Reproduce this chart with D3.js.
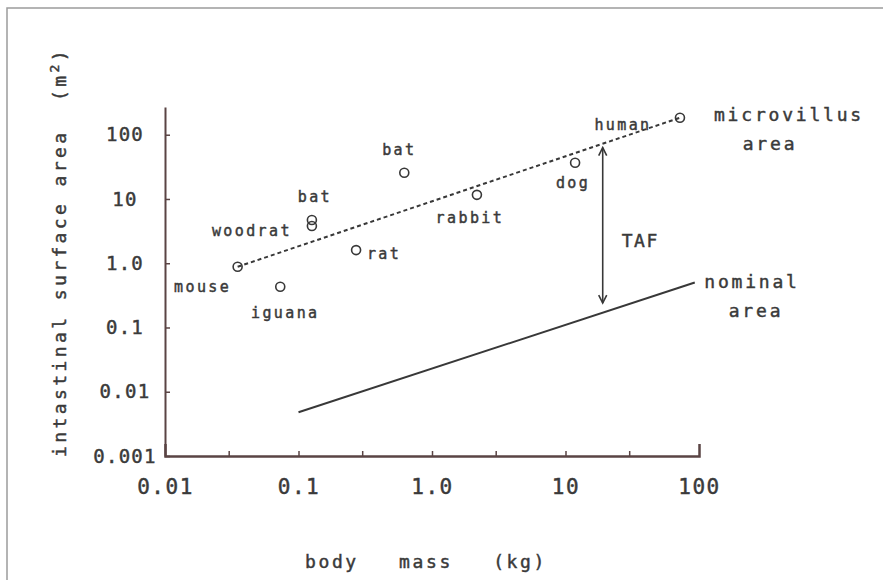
<!DOCTYPE html>
<html>
<head>
<meta charset="utf-8">
<script src="https://cdn.jsdelivr.net/npm/d3@7"></script>
<style>
  html, body { margin: 0; padding: 0; background: #ffffff; }
  svg { display: block; }
  text { font-family: "DejaVu Sans Mono", "Liberation Mono", monospace; fill: #3a3a3a; stroke: #3a3a3a; stroke-width: 0.45px; }
</style>
</head>
<body>
<svg id="chart" width="883" height="580"></svg>
<script>
// ---- data ----
const animals = ["mouse", "iguana", "woodrat", "bat", "rat", "bat", "rabbit", "dog", "human"];
const bodyMass = [0.035, 0.073, 0.126, 0.126, 0.27, 0.62, 2.17, 11.8, 72];      // kg
const surfaceArea = [0.88, 0.43, 3.8, 4.7, 1.6, 25.6, 11.6, 36.6, 184];          // m^2

const microvillusMass = [0.035, 72];
const microvillusArea = [0.88, 184];
const nominalMass = [0.1, 93];
const nominalArea = [0.0048, 0.5];

const tafMass = 19;
const tafArea = [63, 0.24];

const xTickValues = [0.01, 0.1, 1, 10, 100];
const xTickLabels = ["0.01", "0.1", "1.0", "10", "100"];
const xMinorTicks = [0.03, 0.1, 0.3, 1, 3, 10, 30];
const yTickValues = [0.001, 0.01, 0.1, 1, 10, 100];
const yTickLabels = ["0.001", "0.01", "0.1", "1.0", "10", "100"];

// label placement offsets (px) relative to each point
const labelOffsets = [[-35, 25], [5, 31], [-60, 10], [3, -18], [28, 9], [-5, -18], [-7, 28], [-2, 25], [-57, 12]];

// ---- layout ----
const svg = d3.select("#chart");
const axisColor = "#5a4444";
const inkColor = "#383838";

svg.append("rect")
  .attr("x", 7).attr("y", 8).attr("width", 890).attr("height", 600)
  .attr("fill", "none").attr("stroke", "#9c9c9c").attr("stroke-width", 1.5);

const x = d3.scaleLog().domain([0.01, 100]).range([165, 699]);
const y = d3.scaleLog().domain([0.001, 270]).range([456, 107]);

// x axis
const gx = svg.append("g").attr("transform", "translate(0,456)");
gx.call(d3.axisBottom(x).tickValues(xMinorTicks).tickSizeInner(-5).tickSizeOuter(-12).tickFormat(""));
gx.select(".domain").attr("stroke", axisColor).attr("stroke-width", 2.5);
gx.selectAll(".tick line").attr("stroke", axisColor).attr("stroke-width", 1.5);

const gxl = svg.append("g").attr("transform", "translate(0,456)");
gxl.call(d3.axisBottom(x).tickValues(xTickValues).tickSize(0).tickFormat((d, i) => xTickLabels[i]));
gxl.select(".domain").remove();
gxl.selectAll(".tick text")
  .attr("y", 38).attr("dy", 0)
  .style("font-family", "DejaVu Sans Mono")
  .style("font-size", "21px").style("letter-spacing", "1.5px")
  .attr("fill", inkColor);

// y axis
const gy = svg.append("g").attr("transform", "translate(165,0)");
gy.call(d3.axisLeft(y).tickValues(yTickValues).tickSizeInner(-5).tickSizeOuter(0).tickFormat((d, i) => yTickLabels[i]));
gy.select(".domain").attr("stroke", axisColor).attr("stroke-width", 2);
gy.selectAll(".tick line").attr("stroke", axisColor).attr("stroke-width", 1.5);
gy.selectAll(".tick text")
  .attr("x", -40).attr("text-anchor", "middle")
  .style("font-family", "DejaVu Sans Mono")
  .style("font-size", "19px").style("letter-spacing", "1.3px")
  .attr("fill", inkColor);

// lines
const line = d3.line().x(d => x(d[0])).y(d => y(d[1]));
svg.append("path")
  .attr("d", line(microvillusMass.map((m, i) => [m, microvillusArea[i]])))
  .attr("fill", "none").attr("stroke", inkColor).attr("stroke-width", 2)
  .attr("stroke-dasharray", "4,3");
svg.append("path")
  .attr("d", line(nominalMass.map((m, i) => [m, nominalArea[i]])))
  .attr("fill", "none").attr("stroke", inkColor).attr("stroke-width", 2);

// points
const pts = animals.map((a, i) => ({ name: a, m: bodyMass[i], s: surfaceArea[i], off: labelOffsets[i] }));
svg.append("g").selectAll("circle").data(pts).join("circle")
  .attr("cx", d => x(d.m)).attr("cy", d => y(d.s)).attr("r", 4.5)
  .attr("fill", "none").attr("stroke", inkColor).attr("stroke-width", 1.6);
svg.append("g").selectAll("text").data(pts).join("text")
  .attr("x", d => x(d.m) + d.off[0]).attr("y", d => y(d.s) + d.off[1])
  .attr("text-anchor", "middle")
  .style("font-size", "15px").style("letter-spacing", "2.4px")
  .text(d => d.name);

// TAF arrow
const ax = x(tafMass), ay1 = y(tafArea[0]), ay2 = y(tafArea[1]);
svg.append("line").attr("x1", ax).attr("x2", ax).attr("y1", ay1).attr("y2", ay2)
  .attr("stroke", inkColor).attr("stroke-width", 1.6);
svg.append("path")
  .attr("d", `M${ax - 4},${ay1 + 8}L${ax},${ay1}L${ax + 4},${ay1 + 8}M${ax - 4},${ay2 - 8}L${ax},${ay2}L${ax + 4},${ay2 - 8}`)
  .attr("fill", "none").attr("stroke", inkColor).attr("stroke-width", 1.6);
svg.append("text").attr("x", ax + 19).attr("y", (ay1 + ay2) / 2 + 22)
  .style("font-size", "18px").style("letter-spacing", "1.5px").text("TAF");

// right labels
const rl = [["microvillus", 789, 121], ["area", 770, 150], ["nominal", 752, 288], ["area", 756, 317]];
svg.append("g").selectAll("text").data(rl).join("text")
  .attr("x", d => d[1]).attr("y", d => d[2]).attr("text-anchor", "middle")
  .style("font-size", "18px").style("letter-spacing", "2.8px")
  .text(d => d[0]);

// axis titles
svg.append("text")
  .attr("x", 426).attr("y", 568).attr("text-anchor", "middle")
  .attr("xml:space", "preserve").style("white-space", "pre")
  .style("font-size", "18px").style("letter-spacing", "2.6px")
  .text("body   mass   (kg)");

const yt = svg.append("text")
  .attr("transform", "translate(66,252) rotate(-90)")
  .attr("text-anchor", "middle")
  .attr("xml:space", "preserve").style("white-space", "pre")
  .style("font-size", "18px").style("letter-spacing", "3.4px");
yt.append("tspan").text("intastinal surface area  (m");
yt.append("tspan").attr("dy", -7).style("font-size", "13px").text("2");
yt.append("tspan").attr("dy", 7).text(")");
</script>
</body>
</html>
